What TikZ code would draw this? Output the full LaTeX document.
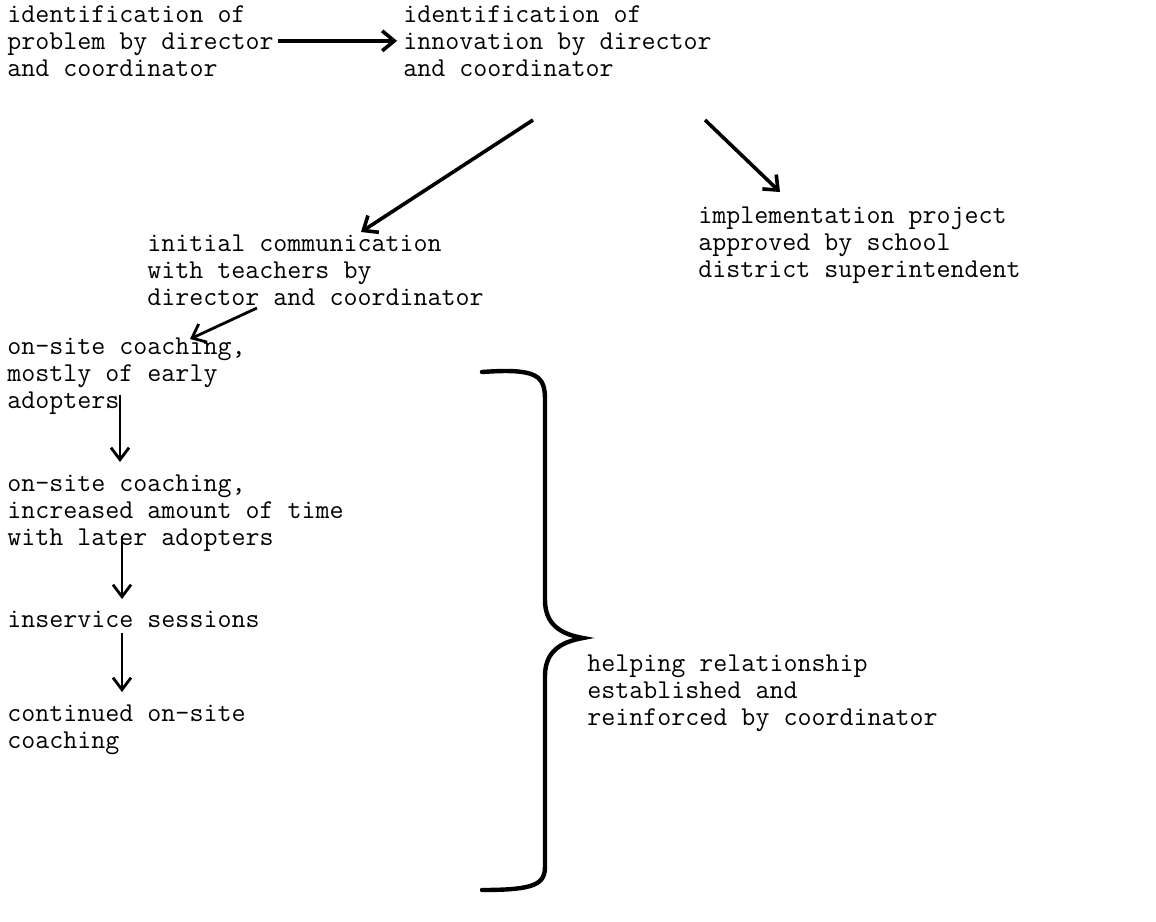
\documentclass[tikz,border=0pt]{standalone}
\usepackage{fontspec}
\usetikzlibrary{arrows.meta}

\begin{document}
\begin{tikzpicture}[x=0.5pt,y=-0.5pt,
    every node/.style={anchor=north west, inner sep=0pt, align=left,
        font=\ttfamily\fontsize{13.6}{13.5}\selectfont\addfontfeatures{FakeBold=2}},
    flow/.style={line width=1.8pt, -{Straight Barb[length=6pt,width=10pt]}},
    down/.style={line width=1.4pt, -{Straight Barb[length=6pt,width=9pt]}}]

\useasboundingbox (0,0) rectangle (1156,921);

\node (problem) at (7,5) {identification of\\problem by director\\and coordinator};
\node (innov) at (403,5) {identification of\\innovation by director\\and coordinator};
\node (approve) at (698,206) {implementation project\\approved by school\\district superintendent};
\node (initial) at (147,234) {initial communication\\with teachers by\\director and coordinator};

\node (early) at (7,337) {on-site coaching,\\mostly of early\\adopters};
\node (later) at (7,474) {on-site coaching,\\increased amount of time\\with later adopters};
\node (inserv) at (7,611) {inservice sessions};
\node (contin) at (7,704) {continued on-site\\coaching};

\node (helping) at (587,654) {helping relationship\\established and\\reinforced by coordinator};

\draw[flow, shorten <=2pt, shorten >=3pt] (problem.east) -- (innov.west);
\draw[flow] ([shift={(130,115)}]innov.north west) -- ([shift={(214,-2)}]initial.north west);
\draw[flow] ([shift={(302,115)}]innov.north west) -- ([shift={(82,-14)}]approve.north west);
\draw[flow, line width=1.4pt] ([shift={(110,74)}]initial.north west) -- ([shift={(183,2)}]early.north west);

\draw[down] ([shift={(113,58)}]early.north west) -- ([shift={(113,-12)}]later.north west);
\draw[down] ([shift={(115,62)}]later.north west) -- ([shift={(115,-12)}]inserv.north west);
\draw[down] ([shift={(115,22)}]inserv.north west) -- ([shift={(115,-12)}]contin.north west);

% brace
\draw[line width=2.2pt, line cap=round]
    (482,372) .. controls (538,368) and (545,376) .. (545,400) -- (545,600)
    .. controls (545,624) and (560,634) .. (583,638)
    .. controls (560,642) and (545,652) .. (545,676) -- (545,866)
    .. controls (545,884) and (536,890) .. (482,890);

\end{tikzpicture}
\end{document}
